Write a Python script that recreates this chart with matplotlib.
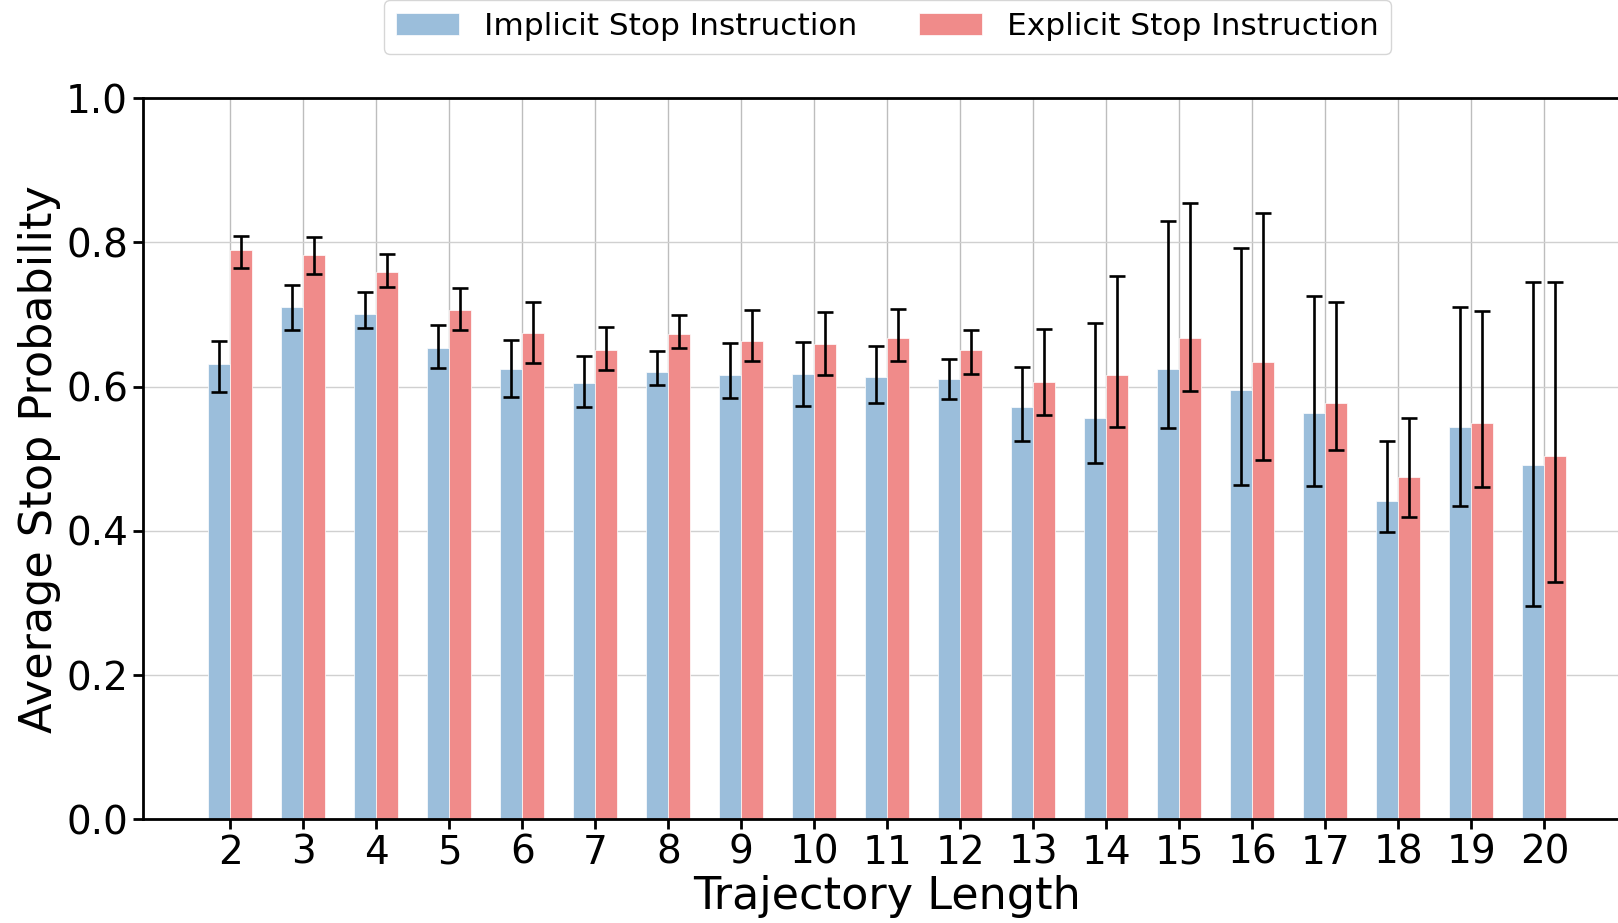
import matplotlib
matplotlib.use("Agg")
import matplotlib.pyplot as plt
import numpy as np

lengths = list(range(2, 21))
implicit_mean = [0.632, 0.710, 0.701, 0.654, 0.624, 0.605, 0.621, 0.616, 0.617, 0.614,
                 0.610, 0.572, 0.557, 0.624, 0.596, 0.564, 0.442, 0.544, 0.492]
implicit_low = [0.592, 0.678, 0.681, 0.626, 0.586, 0.572, 0.602, 0.585, 0.573, 0.577,
                0.583, 0.525, 0.494, 0.543, 0.464, 0.462, 0.398, 0.435, 0.296]
implicit_high = [0.664, 0.741, 0.731, 0.685, 0.665, 0.643, 0.649, 0.660, 0.662, 0.656,
                 0.639, 0.628, 0.689, 0.830, 0.792, 0.726, 0.524, 0.711, 0.745]
explicit_mean = [0.789, 0.783, 0.759, 0.706, 0.675, 0.651, 0.673, 0.663, 0.659, 0.667,
                 0.651, 0.607, 0.616, 0.667, 0.634, 0.577, 0.475, 0.550, 0.504]
explicit_low = [0.765, 0.756, 0.738, 0.678, 0.633, 0.623, 0.653, 0.635, 0.616, 0.636,
                0.618, 0.561, 0.544, 0.594, 0.499, 0.512, 0.419, 0.461, 0.329]
explicit_high = [0.809, 0.807, 0.784, 0.737, 0.718, 0.683, 0.700, 0.706, 0.703, 0.708,
                 0.679, 0.680, 0.754, 0.855, 0.841, 0.718, 0.556, 0.705, 0.745]

labels = ["Implicit Stop Instruction", "Explicit Stop Instruction"]
colors = ["#9BBEDB", "#F08B8A"]

W, H = 1618, 923
fig = plt.figure(figsize=(W / 100, H / 100), dpi=100)
ax_left = 142.7 / W
ax_bottom = (H - 819.3) / H
ax_top = (H - 98.3) / H
ax_width = (1632 - 142.7) / W
ax = fig.add_axes([ax_left, ax_bottom, ax_width, ax_top - ax_bottom])

x = np.array(lengths, dtype=float)
bw = 0.3

im = np.array(implicit_mean)
ex = np.array(explicit_mean)
im_err = [im - np.array(implicit_low), np.array(implicit_high) - im]
ex_err = [ex - np.array(explicit_low), np.array(explicit_high) - ex]

ekw = dict(elinewidth=1.9, capthick=1.9, ecolor="black")
ax.bar(x - bw / 2, im, bw, color=colors[0], label=labels[0], yerr=im_err,
       capsize=5.5, error_kw=ekw, edgecolor="white", linewidth=0.5, zorder=2)
ax.bar(x + bw / 2, ex, bw, color=colors[1], label=labels[1], yerr=ex_err,
       capsize=5.5, error_kw=ekw, edgecolor="white", linewidth=0.5, zorder=2)

ax.set_xlim(0.8, 21.2)
ax.set_ylim(0, 1.0)
ax.set_xticks(lengths)
ax.set_xticklabels([str(v) for v in lengths])
ax.set_yticks([0.0, 0.2, 0.4, 0.6, 0.8, 1.0])
ax.set_yticklabels(["0.0", "0.2", "0.4", "0.6", "0.8", "1.0"])
ax.tick_params(axis="both", labelsize=28, width=2, length=7)
ax.xaxis.grid(True, color="#bdbdbd", linewidth=1.0, zorder=0)
ax.yaxis.grid(True, color="#d0d0d0", linewidth=1.0, zorder=0)
ax.set_axisbelow(True)
for s in ax.spines.values():
    s.set_linewidth(2)

ax.set_xlabel("Trajectory Length", fontsize=32, labelpad=2)
ax.set_ylabel("Average Stop Probability", fontsize=32, labelpad=4)

ax.legend(loc="lower center", bbox_to_anchor=(0.5, 1.04), ncol=2, fontsize=22.5,
          frameon=True, fancybox=True)

fig.savefig("out.png", dpi=100)
